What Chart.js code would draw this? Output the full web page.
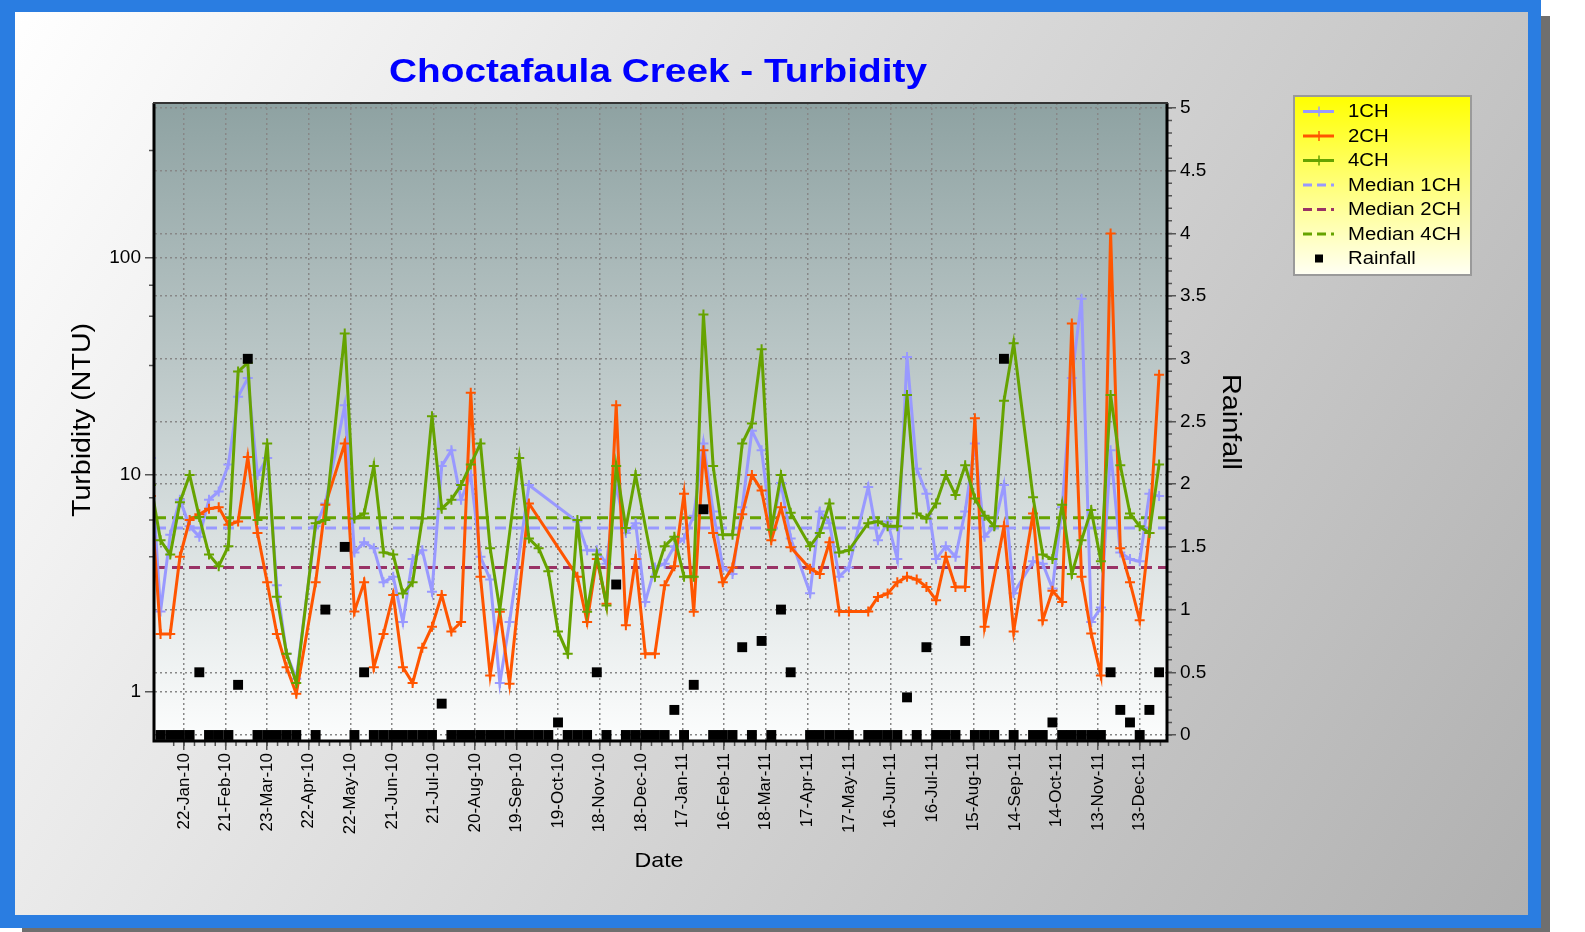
<!DOCTYPE html>
<html><head><meta charset="utf-8">
<script src="https://cdn.jsdelivr.net/npm/chart.js@4.4.1/dist/chart.umd.min.js"></script>
<style>html,body{margin:0;padding:0;background:#fff;overflow:hidden}canvas{display:block}</style>
</head><body>
<canvas id="c" width="1585" height="932" style="width:1585px;height:932px"></canvas>
<script>
// ---------------- data ----------------
const sampleDates = ['2009-12-29',
'2010-01-05','2010-01-12','2010-01-19','2010-01-26','2010-02-02','2010-02-09','2010-02-16','2010-02-23','2010-03-02','2010-03-09',
'2010-03-16','2010-03-23','2010-03-30','2010-04-06','2010-04-13','2010-04-20','2010-04-27','2010-05-04','2010-05-11','2010-05-18',
'2010-05-25','2010-06-01','2010-06-08','2010-06-15','2010-06-22','2010-06-29','2010-07-06','2010-07-13','2010-07-20','2010-07-27',
'2010-08-03','2010-08-10','2010-08-17','2010-08-24','2010-08-31','2010-09-07','2010-09-14','2010-09-21','2010-09-28','2010-10-05',
'2010-10-12','2010-10-19','2010-10-26','2010-11-02','2010-11-09','2010-11-16','2010-11-23','2010-11-30','2010-12-07','2010-12-14',
'2010-12-21','2010-12-28','2011-01-04','2011-01-11','2011-01-18','2011-01-25','2011-02-01','2011-02-08','2011-02-15','2011-02-22',
'2011-03-01','2011-03-08','2011-03-15','2011-03-22','2011-03-29','2011-04-05','2011-04-12','2011-04-19','2011-04-26','2011-05-03',
'2011-05-10','2011-05-17','2011-05-24','2011-05-31','2011-06-07','2011-06-14','2011-06-21','2011-06-28','2011-07-05','2011-07-12',
'2011-07-19','2011-07-26','2011-08-02','2011-08-09','2011-08-16','2011-08-23','2011-08-30','2011-09-06','2011-09-13','2011-09-20',
'2011-09-27','2011-10-04','2011-10-11','2011-10-18','2011-10-25','2011-11-01','2011-11-08','2011-11-15','2011-11-22','2011-11-29',
'2011-12-06','2011-12-13','2011-12-20','2011-12-27'];

const turb1CH = [12,
 2.35, 5.3, 7.7, 5.8, 5.2, 7.7, 8.4, 11.2, 23, 28,
 10, 12, 3.1, 1.5, 1.15, null, 5.8, 7.4, null, 21,
 4.4, 4.9, 4.6, 3.2, 3.4, 2.1, 4.1, 4.5, 2.9, 11,
 13, 7.7, 10, 4.2, 3.3, 1.1, 2.1, null, 9, null,
 null, null, null, 6.1, 4.5, 4.5, 3.9, 9, 5.4, 6.0,
 2.6, 3.75, 3.9, 4.7, 5.1, 6.5, 14, 6.8, 3.75, 3.5,
 7.1, 16, 13, 5.6, 9.2, 5.1, null, 2.85, 6.8, 6.0,
 3.4, 3.75, null, 8.8, 5.0, 6.1, 4.1, 35, 10.7, 8.2,
 4.1, 4.7, 4.2, 6.8, 14, 5.2, 5.8, 9.0, 2.85, null,
 4.0, 3.9, 3.0, 7.1, 28, 65, 2.1, 2.45, 13, 4.4,
 4.1, 4.0, 8.2, 8];

const turb2CH = [8,
 1.85, 1.85, 4.2, 6.2, 6.6, 7.0, 7.1, 5.9, 6.1, 12.1,
 5.4, 3.2, 1.85, 1.3, 0.98, null, 3.2, 7.3, null, 14,
 2.35, 3.2, 1.3, 1.85, 2.8, 1.3, 1.1, 1.6, 2.0, 2.8,
 1.9, 2.1, 24, 3.4, 1.19, 2.34, 1.09, null, 7.4, null,
 null, null, null, 3.4, 2.1, 4.1, 2.55, 21, 2.03, 4.1,
 1.5, 1.5, 3.1, 3.8, 8.2, 2.34, 13, 5.4, 3.2, 3.75,
 6.6, 10, 8.5, 5.0, 7.1, 4.65, null, 3.7, 3.5, 4.9,
 2.35, 2.35, null, 2.35, 2.74, 2.84, 3.2, 3.4, 3.3, 3.05,
 2.65, 4.2, 3.05, 3.05, 18.3, 2.0, null, 5.8, 1.9, null,
 6.65, 2.14, 2.93, 2.6, 50, 3.4, 1.86, 1.19, 130, 4.6,
 3.2, 2.14, 5.4, 29];

const turb4CH = [9,
 5.0, 4.3, 7.5, 10, 6.4, 4.3, 3.8, 4.7, 30, 33,
 6.2, 14, 2.75, 1.5, 1.1, null, 6.0, 6.2, null, 45,
 6.3, 6.65, 11, 4.4, 4.3, 2.84, 3.2, 6.3, 18.7, 7.0,
 7.7, 9.0, 11.2, 14, 4.6, 2.4, null, 12, 5.1, 4.6,
 3.6, 1.9, 1.5, 6.2, 2.34, 4.3, 2.5, 11, 5.7, 10,
 null, 3.4, 4.7, 5.2, 3.4, 3.4, 55, 11, 5.3, 5.3,
 14, 17.3, 38, 5.6, 10, 6.7, null, 4.7, 5.4, 7.4,
 4.4, 4.5, null, 6.0, 6.1, 5.8, 5.8, 23.4, 6.65, 6.3,
 7.4, 10, 8.1, 11.1, 7.8, 6.5, 5.8, 22, 40.5, null,
 7.9, 4.3, 4.1, 7.3, 3.5, 5.0, 6.9, 4.0, 23.4, 11.1,
 6.65, 5.8, 5.4, 11.2];

const rainfall = [null,
 0, 0, 0, 0, 0.5, 0, 0, 0, 0.4, 3.0,
 0, 0, 0, 0, 0, null, 0, 1.0, null, 1.5,
 0, 0.5, 0, 0, 0, 0, 0, 0, 0, 0.25,
 0, 0, 0, 0, 0, 0, 0, 0, 0, 0,
 0, 0.1, 0, 0, 0, 0.5, 0, 1.2, 0, 0,
 0, 0, 0, 0.2, 0, 0.4, 1.8, 0, 0, 0,
 0.7, 0, 0.75, 0, 1.0, 0.5, null, 0, 0, 0,
 0, 0, null, 0, 0, 0, 0, 0.3, 0, 0.7,
 0, 0, 0, 0.75, 0, 0, 0, 3.0, 0, null,
 0, 0, 0.1, 0, 0, 0, 0, 0, 0.5, 0.2,
 0.1, 0, 0.2, 0.5];

const median1CH = 5.7;
const median2CH = 3.75;
const median4CH = 6.35;

const xTickLabels = ['22-Jan-10','21-Feb-10','23-Mar-10','22-Apr-10','22-May-10','21-Jun-10','21-Jul-10','20-Aug-10',
 '19-Sep-10','19-Oct-10','18-Nov-10','18-Dec-10','17-Jan-11','16-Feb-11','18-Mar-11','17-Apr-11','17-May-11',
 '16-Jun-11','16-Jul-11','15-Aug-11','14-Sep-11','14-Oct-11','13-Nov-11','13-Dec-11'];
const turbTickValues = [1, 10, 100];
const turbMinorTicks = [4.2, 6.2, 7.85, 32, 54, 75, 314];
const rainTickValues = [0, 0.5, 1, 1.5, 2, 2.5, 3, 3.5, 4, 4.5, 5];
const xRange = ['2010-01-01', '2012-01-01'];

const titleText = 'Choctafaula Creek - Turbidity';
const leftTitle = 'Turbidity (NTU)';
const rightTitle = 'Rainfall';
const bottomTitle = 'Date';
const legendNames = ['1CH', '2CH', '4CH', 'Median 1CH', 'Median 2CH', 'Median 4CH', 'Rainfall'];

// ---------------- helpers ----------------
const FONT = '"Liberation Sans", Arial, Helvetica, sans-serif';
const MON = {Jan:0,Feb:1,Mar:2,Apr:3,May:4,Jun:5,Jul:6,Aug:7,Sep:8,Oct:9,Nov:10,Dec:11};
const T0 = Date.UTC(2010, 0, 1);
const DAY = 86400000;
function dayOfIso(s) { const [y, m, d] = s.split('-').map(Number); return (Date.UTC(y, m - 1, d) - T0) / DAY; }
function dayOfLabel(s) { const [d, mo, yy] = s.split('-'); return (Date.UTC(2000 + Number(yy), MON[mo], Number(d)) - T0) / DAY; }
const xs = sampleDates.map(dayOfIso);
const xTickValues = xTickLabels.map(dayOfLabel);
const X_MIN = dayOfIso(xRange[0]), X_MAX = dayOfIso(xRange[1]);
const toPts = arr => arr.map((v, i) => ({x: xs[i], y: v}));
const flat = v => [{x: X_MIN, y: v}, {x: X_MAX, y: v}];

const C1 = '#9999ff', C2 = '#ff5500', C4 = '#66a300', CM2 = '#993366';

function stretchText(ctx, txt, x, y, size, weight, color, targetLen, angle, align) {
  ctx.save();
  ctx.font = `${weight} ${size}px ${FONT}`;
  const w = ctx.measureText(txt).width;
  ctx.translate(x, y);
  ctx.rotate(angle || 0);
  ctx.scale(targetLen ? targetLen / w : 1, 1);
  ctx.fillStyle = color;
  ctx.textAlign = align || 'center';
  ctx.textBaseline = 'middle';
  ctx.fillText(txt, 0, 0);
  ctx.restore();
}

const decor = {
  id: 'decor',
  beforeDraw(chart) {
    const ctx = chart.ctx, W = chart.width, H = chart.height;
    ctx.save();
    ctx.fillStyle = '#ffffff';
    ctx.fillRect(0, 0, W, H);
    // shadow
    ctx.fillStyle = '#6f6f6f';
    ctx.fillRect(1541, 16, 9, 920);
    ctx.fillRect(22, 928, 1528, 8);
    // blue frame
    ctx.fillStyle = '#2a7de1';
    ctx.fillRect(0, 0, 1541, 928);
    const g = ctx.createLinearGradient(15, 0, 1528, 915);
    g.addColorStop(0, '#ffffff');
    g.addColorStop(1, '#b0b0b0');
    ctx.fillStyle = g;
    ctx.fillRect(15, 12, 1513, 903);
    // plot background
    const a = chart.chartArea;
    const pg = ctx.createLinearGradient(0, a.top, 0, a.bottom);
    pg.addColorStop(0, '#8ea2a2');
    pg.addColorStop(1, '#fcfdfd');
    ctx.fillStyle = pg;
    ctx.fillRect(a.left, a.top, a.right - a.left, a.bottom - a.top);
    ctx.restore();
  },
  afterDraw(chart) {
    const ctx = chart.ctx, a = chart.chartArea;
    const sx = chart.scales.x, sy = chart.scales.y, sr = chart.scales.y2;
    ctx.save();
    // minor ticks
    ctx.strokeStyle = '#555';
    ctx.lineWidth = 1.5;
    ctx.beginPath();
    for (let v = xTickValues[0] - 7.5; v <= X_MAX; v += 7.5) {
      if (v < X_MIN) continue;
      const px = sx.getPixelForValue(v);
      ctx.moveTo(px, a.bottom); ctx.lineTo(px, a.bottom + 6);
    }
    for (let i = 0; i <= 50; i++) {
      const py = sr.getPixelForValue(i / 10);
      ctx.moveTo(a.right, py); ctx.lineTo(a.right + 6, py);
    }
    turbMinorTicks.forEach(v => {
      const py = sy.getPixelForValue(v);
      ctx.moveTo(a.left, py); ctx.lineTo(a.left - 6, py);
    });
    ctx.stroke();
    // plot frame
    ctx.strokeStyle = '#000';
    ctx.lineWidth = 3;
    ctx.beginPath();
    ctx.moveTo(a.left - 1, a.top); ctx.lineTo(a.left - 1, a.bottom + 1);
    ctx.lineTo(a.right + 1, a.bottom + 1); ctx.lineTo(a.right + 1, a.top);
    ctx.stroke();
    ctx.strokeStyle = '#333';
    ctx.lineWidth = 2;
    ctx.beginPath(); ctx.moveTo(a.left - 2, a.top); ctx.lineTo(a.right + 2, a.top); ctx.stroke();

    // titles
    stretchText(ctx, titleText, 658, 73, 34, 'bold', '#0000ff', 538, 0);
    stretchText(ctx, leftTitle, 83, 420, 25, 'normal', '#000', 194, -Math.PI / 2);
    stretchText(ctx, rightTitle, 1230, 422, 25, 'normal', '#000', 96, Math.PI / 2);
    stretchText(ctx, bottomTitle, 659, 861, 21, 'normal', '#000', 49, 0);

    // legend
    const lx = 1294, ly = 96, lw = 177, lh = 179;
    const lg = ctx.createLinearGradient(0, ly, 0, ly + lh);
    lg.addColorStop(0, '#ffff00');
    lg.addColorStop(1, '#fffff4');
    ctx.fillStyle = lg;
    ctx.fillRect(lx, ly, lw, lh);
    ctx.strokeStyle = '#9a9a9a';
    ctx.lineWidth = 2;
    ctx.strokeRect(lx, ly, lw, lh);
    const styles = [
      {c: C1, dash: [], cross: true}, {c: C2, dash: [], cross: true}, {c: C4, dash: [], cross: true},
      {c: C1, dash: [9, 5]}, {c: CM2, dash: [9, 5]}, {c: C4, dash: [9, 5]}, {sq: true}
    ];
    ctx.font = `normal 17.5px ${FONT}`;
    const ref = ctx.measureText('Median 1CH').width;
    const k = 113 / ref;
    legendNames.forEach((name, i) => {
      const ry = 111.5 + i * 24.5;
      const st = styles[i];
      if (st.sq) {
        ctx.fillStyle = '#000';
        ctx.fillRect(1315, ry - 4, 8, 8);
      } else {
        ctx.strokeStyle = st.c;
        ctx.lineWidth = 3;
        ctx.setLineDash(st.dash);
        ctx.beginPath(); ctx.moveTo(1303, ry); ctx.lineTo(1334, ry); ctx.stroke();
        ctx.setLineDash([]);
        if (st.cross) {
          ctx.lineWidth = 1.5;
          ctx.beginPath(); ctx.moveTo(1319, ry - 5); ctx.lineTo(1319, ry + 5); ctx.stroke();
        }
      }
      ctx.save();
      ctx.translate(1348, ry + 1);
      ctx.scale(k, 1);
      ctx.fillStyle = '#000';
      ctx.textAlign = 'left';
      ctx.textBaseline = 'middle';
      ctx.fillText(name, 0, 0);
      ctx.restore();
    });
    ctx.restore();
  }
};

const lineDs = (label, arr, color, order) => ({
  label, data: toPts(arr), yAxisID: 'y', borderColor: color, backgroundColor: color,
  borderWidth: 3, pointStyle: 'cross', pointRadius: 5, pointBorderWidth: 2,
  pointBorderColor: color, spanGaps: true, tension: 0, fill: false, order
});
const medDs = (label, v, color, order) => ({
  label, data: flat(v), yAxisID: 'y', borderColor: color, borderWidth: 3,
  borderDash: [11, 6], pointRadius: 0, fill: false, order
});

const gridCommon = { color: '#878787', lineWidth: 1.5, tickColor: '#555', tickLength: 10, tickWidth: 1.5 };

new Chart(document.getElementById('c'), {
  type: 'line',
  data: {
    datasets: [
      { label: 'Rainfall', data: toPts(rainfall), yAxisID: 'y2', showLine: false,
        pointStyle: 'rect', pointRadius: 7, backgroundColor: '#000', borderColor: '#000',
        pointBorderWidth: 0, order: 0 },
      lineDs('4CH', turb4CH, C4, 1),
      lineDs('2CH', turb2CH, C2, 2),
      lineDs('1CH', turb1CH, C1, 3),
      medDs('Median 4CH', median4CH, C4, 4),
      medDs('Median 2CH', median2CH, CM2, 5),
      medDs('Median 1CH', median1CH, C1, 6)
    ]
  },
  options: {
    responsive: false, animation: false, devicePixelRatio: 1,
    layout: { padding: { left: 0, top: 103, right: 319, bottom: 92 } },
    plugins: { legend: { display: false }, title: { display: false }, tooltip: { enabled: false } },
    scales: {
      x: {
        type: 'linear', position: 'bottom', min: X_MIN, max: X_MAX,
        afterBuildTicks: s => { s.ticks = xTickValues.map(v => ({value: v})); },
        afterFit: s => { s.height = 100; },
        ticks: { autoSkip: false, maxRotation: 90, minRotation: 90, padding: 3, color: '#000',
                 font: { family: FONT, size: 17 }, callback: (v, i) => xTickLabels[i] },
        grid: gridCommon,
        border: { display: false, dash: [2, 3] }
      },
      y: {
        type: 'logarithmic', position: 'left', min: 0.6, max: 520,
        afterBuildTicks: s => { s.ticks = turbTickValues.map(v => ({value: v})); },
        afterFit: s => { s.width = 155; },
        ticks: { color: '#000', font: { family: FONT, size: 19 }, padding: 4, callback: v => String(v) },
        grid: gridCommon,
        border: { display: false, dash: [2, 3] }
      },
      y2: {
        type: 'linear', position: 'right', min: -0.04, max: 5.04,
        afterBuildTicks: s => { s.ticks = rainTickValues.map(v => ({value: v})); },
        afterFit: s => { s.width = 100; },
        ticks: { color: '#000', font: { family: FONT, size: 19 }, padding: 4, callback: v => String(v) },
        grid: gridCommon,
        border: { display: false, dash: [2, 3] }
      }
    }
  },
  plugins: [decor]
});
</script>
</body></html>
